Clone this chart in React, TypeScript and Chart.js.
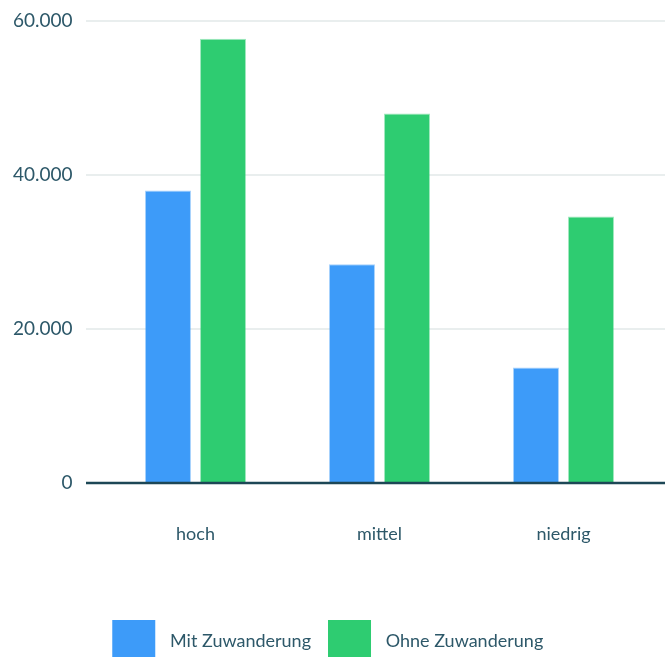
import React, { useEffect, useRef } from 'react';
import { Chart, registerables } from 'chart.js';

Chart.register(...registerables);

const categories = ['hoch', 'mittel', 'niedrig'];
const mitZuwanderung = [38000, 28400, 15000];
const ohneZuwanderung = [57700, 48000, 34600];
const seriesLabels = ['Mit Zuwanderung', 'Ohne Zuwanderung'];
const yTicks = [0, 20000, 40000, 60000];

const TEXT = '#2d5869';
const FONT = 'Lato, "Noto Sans", sans-serif';
const W = 665;
const H = 673;

const fmt = (v: number) => String(v).replace(/\B(?=(\d{3})+(?!\d))/g, '.');

const gridPlugin = {
  id: 'fullGrid',
  beforeDatasetsDraw(chart: any) {
    const { ctx, chartArea } = chart;
    const y = chart.scales.y;
    ctx.save();
    ctx.strokeStyle = '#e9eeee';
    ctx.lineWidth = 2;
    yTicks.forEach((v) => {
      if (v === 0) return;
      const py = y.getPixelForValue(v);
      ctx.beginPath();
      ctx.moveTo(chartArea.left - 17.5, py);
      ctx.lineTo(chart.width, py);
      ctx.stroke();
    });
    ctx.restore();
  },
  afterDatasetsDraw(chart: any) {
    const { ctx, chartArea } = chart;
    const py = chart.scales.y.getPixelForValue(0);
    ctx.save();
    ctx.strokeStyle = '#1d4756';
    ctx.lineWidth = 2.5;
    ctx.beginPath();
    ctx.moveTo(chartArea.left - 17.5, py);
    ctx.lineTo(chart.width, py);
    ctx.stroke();
    ctx.restore();
  },
};

export default function App() {
  const ref = useRef<HTMLCanvasElement | null>(null);
  useEffect(() => {
    if (!ref.current) return;
    const chart = new Chart(ref.current, {
      type: 'bar',
      data: {
        labels: categories,
        datasets: [
          {
            label: seriesLabels[0],
            data: mitZuwanderung,
            backgroundColor: '#3d9bf9',
            borderColor: 'rgba(61,155,249,0.45)',
            borderWidth: 1,
            barPercentage: 0.836,
            categoryPercentage: 0.598,
          },
          {
            label: seriesLabels[1],
            data: ohneZuwanderung,
            backgroundColor: '#2ecc71',
            borderColor: 'rgba(46,204,113,0.45)',
            borderWidth: 1,
            barPercentage: 0.836,
            categoryPercentage: 0.598,
          },
        ],
      },
      options: {
        responsive: false,
        animation: false,
        devicePixelRatio: 1,
        layout: { padding: { top: 21, right: 9.5, left: 0, bottom: 0 } },
        plugins: {
          tooltip: { enabled: false },
          legend: {
            position: 'bottom',
            labels: {
              boxWidth: 43,
              boxHeight: 43,
              padding: 17,
              color: TEXT,
              font: { family: FONT, size: 18 },
              generateLabels: (chart: any) => {
                const items = Chart.defaults.plugins.legend.labels.generateLabels(chart);
                return items.map((it: any) => ({ ...it, text: ' \u200A' + it.text, lineWidth: 0 }));
              },
            },
          },
        },
        scales: {
          x: {
            grid: { display: false, drawTicks: false },
            border: { display: false },
            ticks: { color: TEXT, font: { family: FONT, size: 18 }, padding: 40 },
            afterFit: (s: any) => { s.height = 120; },
          },
          y: {
            min: 0,
            max: 60000,
            grid: { display: false, drawTicks: false },
            border: { display: false },
            afterBuildTicks: (s: any) => { s.ticks = yTicks.map((v) => ({ value: v })); },
            ticks: {
              color: TEXT,
              font: { family: FONT, size: 19 },
              padding: 31,
              callback: (v: any) => fmt(Number(v)),
            },
            afterFit: (s: any) => {
              s.width = 103.5;
              s.paddingTop = 0;
              s.paddingBottom = 0;
            },
          },
        },
      },
      plugins: [gridPlugin],
    } as any);
    return () => chart.destroy();
  }, []);
  return (
    <div style={{ position: 'fixed', left: 0, top: 0, width: W, height: H }}>
      <canvas ref={ref} width={W} height={H} style={{ width: W, height: H, display: 'block' }} />
    </div>
  );
}
